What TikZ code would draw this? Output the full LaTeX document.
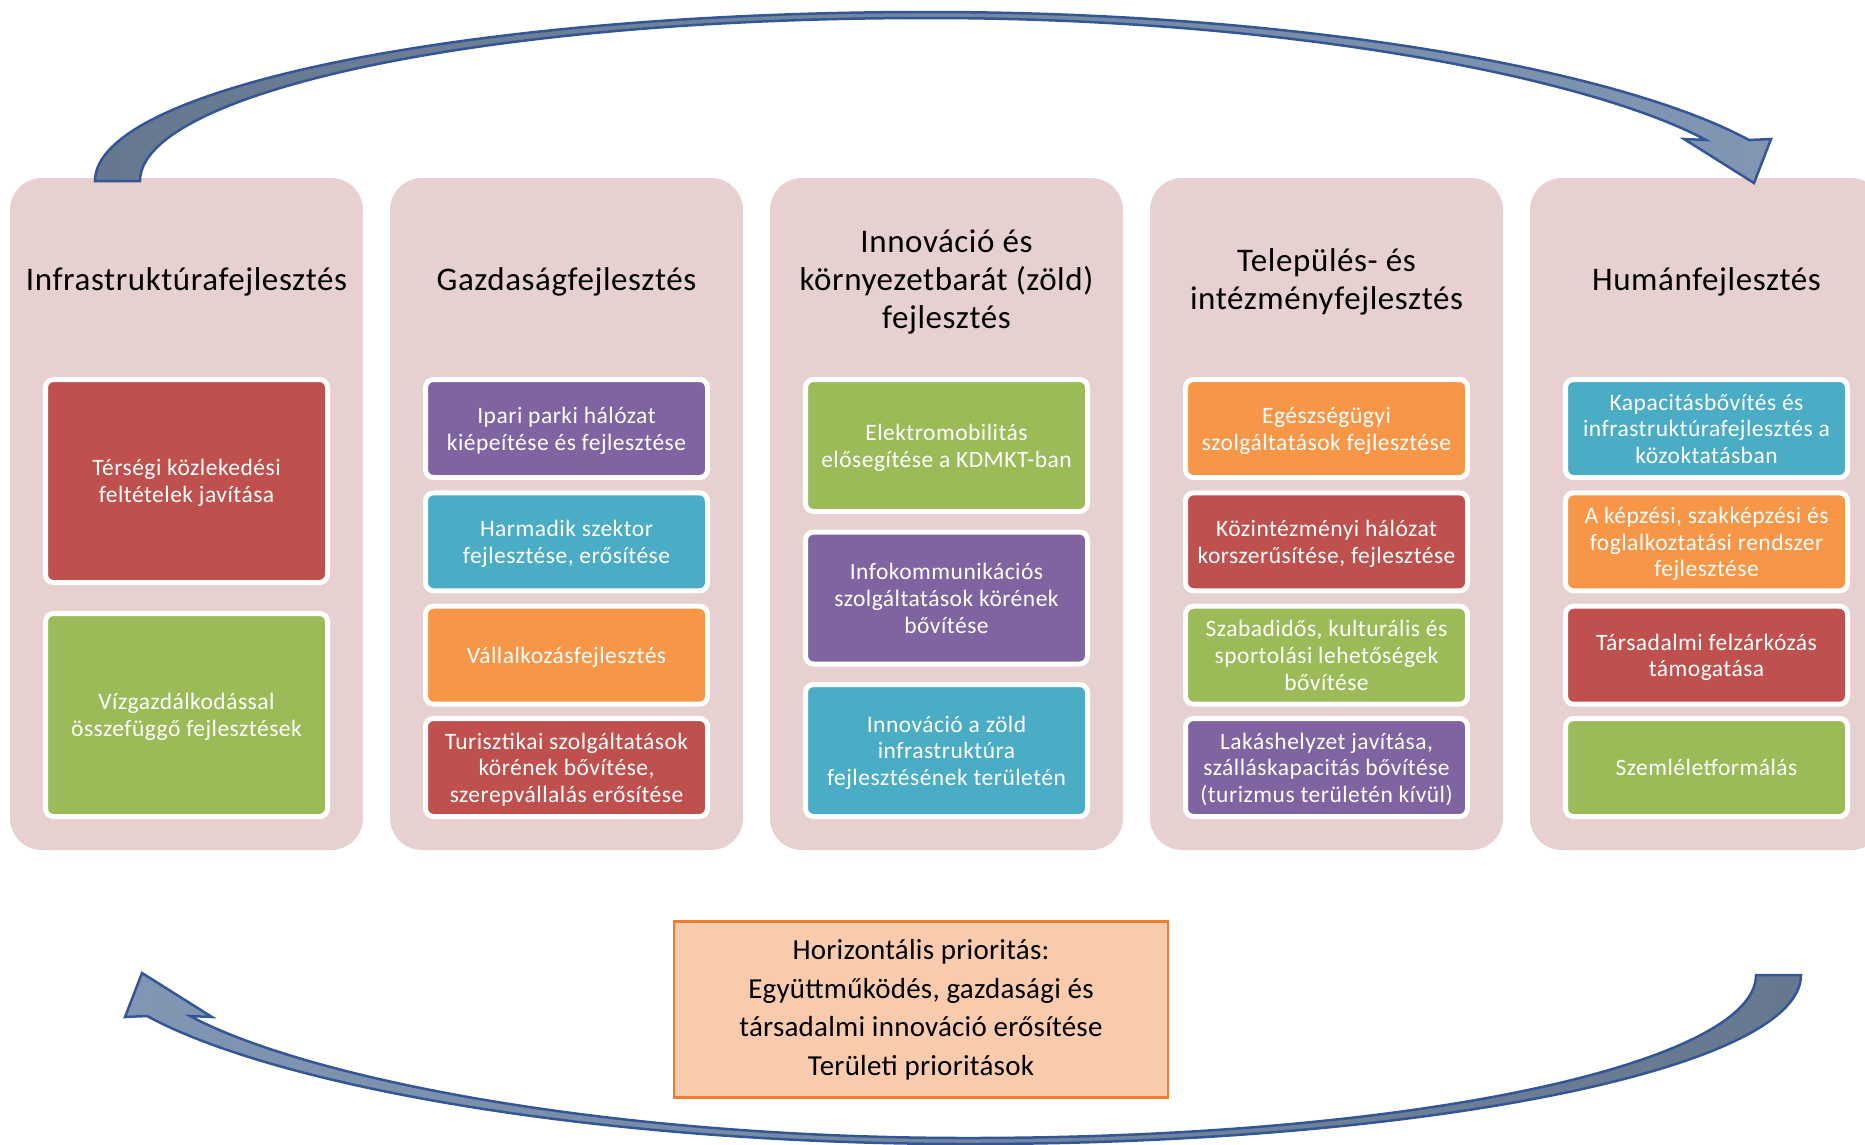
\documentclass[tikz,border=0pt]{standalone}
\usepackage{fontspec}
\setmainfont{Carlito}
\newfontfamily\titlefont[LetterSpace=1.8]{Carlito}
\newfontfamily\boxfont[LetterSpace=2.1]{Carlito}
\newfontfamily\hfont[LetterSpace=0.8]{Carlito}
\newcommand\itxt[1]{\raisebox{-3pt}[\height][\depth]{\begin{tabular}{@{}c@{}}#1\end{tabular}}}
\definecolor{colbg}{RGB}{230,208,208}
\definecolor{cred}{HTML}{C0504D}
\definecolor{cgreen}{HTML}{9BBB59}
\definecolor{cpurple}{HTML}{8064A2}
\definecolor{caqua}{HTML}{4BACC6}
\definecolor{corange}{HTML}{F79646}
\definecolor{arrdark}{HTML}{66788F}
\definecolor{arrlight}{HTML}{8096B3}
\definecolor{arrline}{RGB}{52,86,148}
\definecolor{hfill}{HTML}{F8CBAD}
\definecolor{hline}{HTML}{ED7D31}
\begin{document}
\begin{tikzpicture}[x=1pt,y=-1pt,
 colbox/.style={fill=colbg, rounded corners=32pt, minimum width=353pt, minimum height=672pt, inner sep=0pt},
 coltitle/.style={font=\titlefont\fontsize{33}{38}\selectfont, align=center, text=black},
 itembox/.style={fill=#1, draw=white, line width=5pt, rounded corners=8pt, minimum width=282pt, inner sep=0pt, font=\boxfont\fontsize{23.5}{26.8}\selectfont, text=white},
 hA/.style={minimum height=203pt},
 hB/.style={minimum height=132pt},
 hC/.style={minimum height=98pt},
 blockarrow/.style={draw=arrline, line width=2.5pt, line join=miter},
 hbox/.style={fill=hfill, draw=hline, line width=2.5pt, minimum width=494pt, minimum height=176pt, inner sep=0pt, font=\hfont\fontsize{29}{38.5}\selectfont, align=center}
]
\useasboundingbox (0,0) rectangle (1865,1144);
\begin{scope}
\clip (0,0) rectangle (1865,1144);
% columns
\node[colbox] (c1) at (186.5,514) {};
\node[colbox] (c2) at (566.5,514) {};
\node[colbox] (c3) at (946.5,514) {};
\node[colbox] (c4) at (1326.5,514) {};
\node[colbox] (c5) at (1706.5,514) {};
% titles
\node[coltitle] (t1) at (186.5,282) {Infrastruktúrafejlesztés};
\node[coltitle] (t2) at (566.5,282) {Gazdaságfejlesztés};
\node[coltitle] (t3) at (946.5,282) {Innováció és\\környezetbarát (zöld)\\fejlesztés};
\node[coltitle] (t4) at (1326.5,282) {Település- és\\intézményfejlesztés};
\node[coltitle] (t5) at (1706.5,282) {Humánfejlesztés};
% column 1
\node[itembox=cred, hA] (b11) at (186.5,481) {\itxt{Térségi közlekedési\\feltételek javítása}};
\node[itembox=cgreen, hA] (b12) at (186.5,715) {\itxt{Vízgazdálkodással\\összefüggő fejlesztések}};
% column 2
\node[itembox=cpurple, hC] (b21) at (566.5,428.5) {\itxt{Ipari parki hálózat\\kiépeítése és fejlesztése}};
\node[itembox=caqua, hC] (b22) at (566.5,541.8) {\itxt{Harmadik szektor\\fejlesztése, erősítése}};
\node[itembox=corange, hC] (b23) at (566.5,655.2) {\itxt{Vállalkozásfejlesztés}};
\node[itembox=cred, hC] (b24) at (566.5,767.5) {\itxt{Turisztikai szolgáltatások\\körének bővítése,\\szerepvállalás erősítése}};
% column 3
\node[itembox=cgreen, hB] (b31) at (946.5,445.5) {\itxt{Elektromobilitás\\elősegítése a KDMKT-ban}};
\node[itembox=cpurple, hB] (b32) at (946.5,598) {\itxt{Infokommunikációs\\szolgáltatások körének\\bővítése}};
\node[itembox=caqua, hB] (b33) at (946.5,750.5) {\itxt{Innováció a zöld\\infrastruktúra\\fejlesztésének területén}};
% column 4
\node[itembox=corange, hC] (b41) at (1326.5,428.5) {\itxt{Egészségügyi\\szolgáltatások fejlesztése}};
\node[itembox=cred, hC] (b42) at (1326.5,541.8) {\itxt{Közintézményi hálózat\\korszerűsítése, fejlesztése}};
\node[itembox=cgreen, hC] (b43) at (1326.5,655.2) {\itxt{Szabadidős, kulturális és\\sportolási lehetőségek\\bővítése}};
\node[itembox=cpurple, hC] (b44) at (1326.5,767.5) {\itxt{Lakáshelyzet javítása,\\szálláskapacitás bővítése\\(turizmus területén kívül)}};
% column 5
\node[itembox=caqua, hC] (b51) at (1706.5,428.5) {\itxt{Kapacitásbővítés és\\infrastruktúrafejlesztés a\\közoktatásban}};
\node[itembox=corange, hC] (b52) at (1706.5,541.8) {\itxt{A képzési, szakképzési és\\foglalkoztatási rendszer\\fejlesztése}};
\node[itembox=cred, hC] (b53) at (1706.5,655.2) {\itxt{Társadalmi felzárkózás\\támogatása}};
\node[itembox=cgreen, hC] (b54) at (1706.5,767.5) {\itxt{Szemléletformálás}};
% horizontal priority box
\node[hbox] (hp) at (921,1009.5) {Horizontális prioritás:\\Együttműködés, gazdasági és\\társadalmi innováció erősítése\\Területi prioritások};
% top curved arrow
\path[blockarrow, left color=arrdark, right color=arrlight]
 (95,181) .. controls (95,88) and (468,12) .. (928,12)
 .. controls (1300,12) and (1620,70) .. (1749,140)
 -- (1771,139) -- (1754,183) -- (1684,139) -- (1706,140)
 .. controls (1590,78) and (1290,18) .. (928,18)
 .. controls (470,18) and (140,95) .. (140,181) -- cycle;
% bottom curved arrow
\path[blockarrow, left color=arrlight, right color=arrdark]
 (1801,975) .. controls (1801,1068) and (1428,1144) .. (968,1144)
 .. controls (596,1144) and (276,1086) .. (147,1016)
 -- (125,1017) -- (142,973) -- (212,1017) -- (190,1016)
 .. controls (306,1078) and (606,1138) .. (968,1138)
 .. controls (1426,1138) and (1756,1061) .. (1756,975) -- cycle;
\end{scope}
\end{tikzpicture}
\end{document}
